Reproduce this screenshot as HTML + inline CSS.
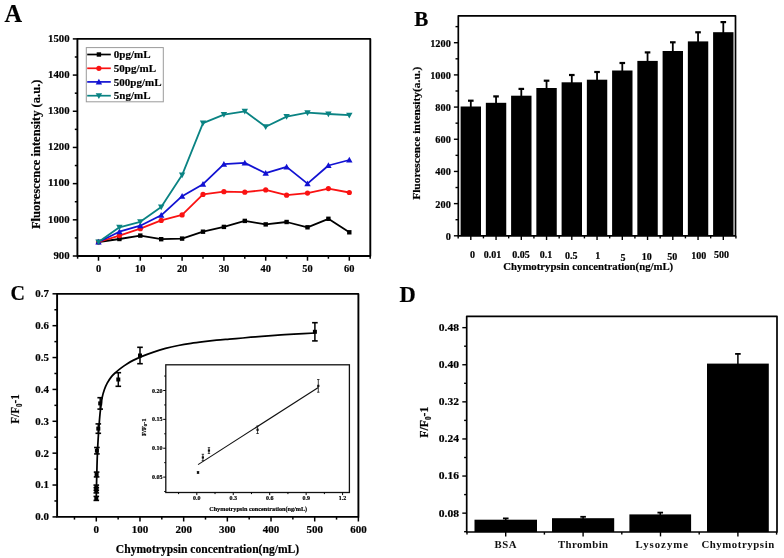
<!DOCTYPE html>
<html><head><meta charset="utf-8"><style>
html,body{margin:0;padding:0;background:#fff;}
svg{display:block;filter:blur(0.35px);}
text{font-family:"Liberation Serif",serif;font-weight:bold;fill:#000;stroke:#000;stroke-width:0.18px;stroke-linejoin:round;}
text.lt{stroke:none;fill:#111;}
</style></head><body>
<svg width="784" height="558" viewBox="0 0 784 558">
<rect width="784" height="558" fill="#fff"/>
<text x="4.50" y="21.90" font-size="24.4" text-anchor="start" >A</text>
<rect x="77.4" y="38.9" width="292.9" height="217.1" fill="none" stroke="#000" stroke-width="1.9" stroke-linejoin="round"/>
<line x1="72.80" y1="256.00" x2="77.40" y2="256.00" stroke="#000" stroke-width="1.5"/>
<text x="69.60" y="258.80" font-size="10.6" text-anchor="end" textLength="16.200000000000003" lengthAdjust="spacingAndGlyphs" >900</text>
<line x1="74.80" y1="237.91" x2="77.40" y2="237.91" stroke="#000" stroke-width="1.5"/>
<line x1="72.80" y1="219.82" x2="77.40" y2="219.82" stroke="#000" stroke-width="1.5"/>
<text x="69.60" y="222.62" font-size="10.6" text-anchor="end" textLength="21.6" lengthAdjust="spacingAndGlyphs" >1000</text>
<line x1="74.80" y1="201.72" x2="77.40" y2="201.72" stroke="#000" stroke-width="1.5"/>
<line x1="72.80" y1="183.63" x2="77.40" y2="183.63" stroke="#000" stroke-width="1.5"/>
<text x="69.60" y="186.43" font-size="10.6" text-anchor="end" textLength="21.6" lengthAdjust="spacingAndGlyphs" >1100</text>
<line x1="74.80" y1="165.54" x2="77.40" y2="165.54" stroke="#000" stroke-width="1.5"/>
<line x1="72.80" y1="147.45" x2="77.40" y2="147.45" stroke="#000" stroke-width="1.5"/>
<text x="69.60" y="150.25" font-size="10.6" text-anchor="end" textLength="21.6" lengthAdjust="spacingAndGlyphs" >1200</text>
<line x1="74.80" y1="129.36" x2="77.40" y2="129.36" stroke="#000" stroke-width="1.5"/>
<line x1="72.80" y1="111.27" x2="77.40" y2="111.27" stroke="#000" stroke-width="1.5"/>
<text x="69.60" y="114.07" font-size="10.6" text-anchor="end" textLength="21.6" lengthAdjust="spacingAndGlyphs" >1300</text>
<line x1="74.80" y1="93.18" x2="77.40" y2="93.18" stroke="#000" stroke-width="1.5"/>
<line x1="72.80" y1="75.08" x2="77.40" y2="75.08" stroke="#000" stroke-width="1.5"/>
<text x="69.60" y="77.88" font-size="10.6" text-anchor="end" textLength="21.6" lengthAdjust="spacingAndGlyphs" >1400</text>
<line x1="74.80" y1="56.99" x2="77.40" y2="56.99" stroke="#000" stroke-width="1.5"/>
<line x1="72.80" y1="38.90" x2="77.40" y2="38.90" stroke="#000" stroke-width="1.5"/>
<text x="69.60" y="41.70" font-size="10.6" text-anchor="end" textLength="21.6" lengthAdjust="spacingAndGlyphs" >1500</text>
<line x1="77.60" y1="256.00" x2="77.60" y2="258.70" stroke="#000" stroke-width="1.5"/>
<line x1="98.50" y1="256.00" x2="98.50" y2="260.70" stroke="#000" stroke-width="1.5"/>
<text x="98.50" y="272.20" font-size="10.4" text-anchor="middle" >0</text>
<line x1="119.40" y1="256.00" x2="119.40" y2="258.70" stroke="#000" stroke-width="1.5"/>
<line x1="140.30" y1="256.00" x2="140.30" y2="260.70" stroke="#000" stroke-width="1.5"/>
<text x="140.30" y="272.20" font-size="10.4" text-anchor="middle" >10</text>
<line x1="161.20" y1="256.00" x2="161.20" y2="258.70" stroke="#000" stroke-width="1.5"/>
<line x1="182.10" y1="256.00" x2="182.10" y2="260.70" stroke="#000" stroke-width="1.5"/>
<text x="182.10" y="272.20" font-size="10.4" text-anchor="middle" >20</text>
<line x1="203.00" y1="256.00" x2="203.00" y2="258.70" stroke="#000" stroke-width="1.5"/>
<line x1="223.90" y1="256.00" x2="223.90" y2="260.70" stroke="#000" stroke-width="1.5"/>
<text x="223.90" y="272.20" font-size="10.4" text-anchor="middle" >30</text>
<line x1="244.80" y1="256.00" x2="244.80" y2="258.70" stroke="#000" stroke-width="1.5"/>
<line x1="265.70" y1="256.00" x2="265.70" y2="260.70" stroke="#000" stroke-width="1.5"/>
<text x="265.70" y="272.20" font-size="10.4" text-anchor="middle" >40</text>
<line x1="286.60" y1="256.00" x2="286.60" y2="258.70" stroke="#000" stroke-width="1.5"/>
<line x1="307.50" y1="256.00" x2="307.50" y2="260.70" stroke="#000" stroke-width="1.5"/>
<text x="307.50" y="272.20" font-size="10.4" text-anchor="middle" >50</text>
<line x1="328.40" y1="256.00" x2="328.40" y2="258.70" stroke="#000" stroke-width="1.5"/>
<line x1="349.30" y1="256.00" x2="349.30" y2="260.70" stroke="#000" stroke-width="1.5"/>
<text x="349.30" y="272.20" font-size="10.4" text-anchor="middle" >60</text>
<line x1="370.20" y1="256.00" x2="370.20" y2="258.70" stroke="#000" stroke-width="1.5"/>
<text x="39.60" y="154.30" font-size="12" text-anchor="middle" textLength="149.5" lengthAdjust="spacingAndGlyphs" transform="rotate(-90 39.60 154.30)" >Fluorescence intensity (a.u.)</text>
<polyline points="98.50,242.00 119.40,239.00 140.30,235.60 161.20,239.20 182.10,238.60 203.00,231.70 223.90,226.90 244.80,220.90 265.70,224.40 286.60,222.00 307.50,227.30 328.40,218.80 349.30,232.30" fill="none" stroke="#000000" stroke-width="1.8" stroke-linejoin="round"/>
<polyline points="98.50,242.00 119.40,235.60 140.30,228.70 161.20,220.40 182.10,214.90 203.00,194.40 223.90,191.70 244.80,192.20 265.70,189.90 286.60,195.20 307.50,193.10 328.40,188.60 349.30,192.50" fill="none" stroke="#fa1212" stroke-width="1.8" stroke-linejoin="round"/>
<polyline points="98.50,242.00 119.40,231.70 140.30,225.70 161.20,215.30 182.10,196.20 203.00,184.20 223.90,164.10 244.80,162.90 265.70,173.20 286.60,166.90 307.50,183.60 328.40,165.50 349.30,160.00" fill="none" stroke="#1212d2" stroke-width="1.8" stroke-linejoin="round"/>
<polyline points="98.50,242.00 119.40,227.30 140.30,221.80 161.20,207.00 182.10,175.10 203.00,123.10 223.90,114.60 244.80,111.30 265.70,126.70 286.60,116.60 307.50,112.70 328.40,114.00 349.30,115.20" fill="none" stroke="#0a8383" stroke-width="1.8" stroke-linejoin="round"/>
<rect x="96.30" y="239.80" width="4.40" height="4.40" fill="#000000"/>
<rect x="117.20" y="236.80" width="4.40" height="4.40" fill="#000000"/>
<rect x="138.10" y="233.40" width="4.40" height="4.40" fill="#000000"/>
<rect x="159.00" y="237.00" width="4.40" height="4.40" fill="#000000"/>
<rect x="179.90" y="236.40" width="4.40" height="4.40" fill="#000000"/>
<rect x="200.80" y="229.50" width="4.40" height="4.40" fill="#000000"/>
<rect x="221.70" y="224.70" width="4.40" height="4.40" fill="#000000"/>
<rect x="242.60" y="218.70" width="4.40" height="4.40" fill="#000000"/>
<rect x="263.50" y="222.20" width="4.40" height="4.40" fill="#000000"/>
<rect x="284.40" y="219.80" width="4.40" height="4.40" fill="#000000"/>
<rect x="305.30" y="225.10" width="4.40" height="4.40" fill="#000000"/>
<rect x="326.20" y="216.60" width="4.40" height="4.40" fill="#000000"/>
<rect x="347.10" y="230.10" width="4.40" height="4.40" fill="#000000"/>
<circle cx="98.50" cy="242.00" r="2.6" fill="#fa1212"/>
<circle cx="119.40" cy="235.60" r="2.6" fill="#fa1212"/>
<circle cx="140.30" cy="228.70" r="2.6" fill="#fa1212"/>
<circle cx="161.20" cy="220.40" r="2.6" fill="#fa1212"/>
<circle cx="182.10" cy="214.90" r="2.6" fill="#fa1212"/>
<circle cx="203.00" cy="194.40" r="2.6" fill="#fa1212"/>
<circle cx="223.90" cy="191.70" r="2.6" fill="#fa1212"/>
<circle cx="244.80" cy="192.20" r="2.6" fill="#fa1212"/>
<circle cx="265.70" cy="189.90" r="2.6" fill="#fa1212"/>
<circle cx="286.60" cy="195.20" r="2.6" fill="#fa1212"/>
<circle cx="307.50" cy="193.10" r="2.6" fill="#fa1212"/>
<circle cx="328.40" cy="188.60" r="2.6" fill="#fa1212"/>
<circle cx="349.30" cy="192.50" r="2.6" fill="#fa1212"/>
<polygon points="98.50,238.80 101.70,244.56 95.30,244.56" fill="#1212d2"/>
<polygon points="119.40,228.50 122.60,234.26 116.20,234.26" fill="#1212d2"/>
<polygon points="140.30,222.50 143.50,228.26 137.10,228.26" fill="#1212d2"/>
<polygon points="161.20,212.10 164.40,217.86 158.00,217.86" fill="#1212d2"/>
<polygon points="182.10,193.00 185.30,198.76 178.90,198.76" fill="#1212d2"/>
<polygon points="203.00,181.00 206.20,186.76 199.80,186.76" fill="#1212d2"/>
<polygon points="223.90,160.90 227.10,166.66 220.70,166.66" fill="#1212d2"/>
<polygon points="244.80,159.70 248.00,165.46 241.60,165.46" fill="#1212d2"/>
<polygon points="265.70,170.00 268.90,175.76 262.50,175.76" fill="#1212d2"/>
<polygon points="286.60,163.70 289.80,169.46 283.40,169.46" fill="#1212d2"/>
<polygon points="307.50,180.40 310.70,186.16 304.30,186.16" fill="#1212d2"/>
<polygon points="328.40,162.30 331.60,168.06 325.20,168.06" fill="#1212d2"/>
<polygon points="349.30,156.80 352.50,162.56 346.10,162.56" fill="#1212d2"/>
<polygon points="98.50,245.20 101.70,239.44 95.30,239.44" fill="#0a8383"/>
<polygon points="119.40,230.50 122.60,224.74 116.20,224.74" fill="#0a8383"/>
<polygon points="140.30,225.00 143.50,219.24 137.10,219.24" fill="#0a8383"/>
<polygon points="161.20,210.20 164.40,204.44 158.00,204.44" fill="#0a8383"/>
<polygon points="182.10,178.30 185.30,172.54 178.90,172.54" fill="#0a8383"/>
<polygon points="203.00,126.30 206.20,120.54 199.80,120.54" fill="#0a8383"/>
<polygon points="223.90,117.80 227.10,112.04 220.70,112.04" fill="#0a8383"/>
<polygon points="244.80,114.50 248.00,108.74 241.60,108.74" fill="#0a8383"/>
<polygon points="265.70,129.90 268.90,124.14 262.50,124.14" fill="#0a8383"/>
<polygon points="286.60,119.80 289.80,114.04 283.40,114.04" fill="#0a8383"/>
<polygon points="307.50,115.90 310.70,110.14 304.30,110.14" fill="#0a8383"/>
<polygon points="328.40,117.20 331.60,111.44 325.20,111.44" fill="#0a8383"/>
<polygon points="349.30,118.40 352.50,112.64 346.10,112.64" fill="#0a8383"/>
<rect x="86.3" y="47.6" width="77" height="54.2" fill="#fff" stroke="#9a9a9a" stroke-width="1"/>
<line x1="87.20" y1="54.50" x2="110.80" y2="54.50" stroke="#000000" stroke-width="1.7"/>
<rect x="96.70" y="52.30" width="4.40" height="4.40" fill="#000000"/>
<text x="113.80" y="58.20" font-size="11" text-anchor="start" >0pg/mL</text>
<line x1="87.20" y1="68.30" x2="110.80" y2="68.30" stroke="#fa1212" stroke-width="1.7"/>
<circle cx="98.90" cy="68.30" r="2.6" fill="#fa1212"/>
<text x="113.80" y="72.00" font-size="11" text-anchor="start" >50pg/mL</text>
<line x1="87.20" y1="81.90" x2="110.80" y2="81.90" stroke="#1212d2" stroke-width="1.7"/>
<polygon points="98.90,78.70 102.10,84.46 95.70,84.46" fill="#1212d2"/>
<text x="113.80" y="85.60" font-size="11" text-anchor="start" >500pg/mL</text>
<line x1="87.20" y1="95.70" x2="110.80" y2="95.70" stroke="#0a8383" stroke-width="1.7"/>
<polygon points="98.90,98.90 102.10,93.14 95.70,93.14" fill="#0a8383"/>
<text x="113.80" y="99.40" font-size="11" text-anchor="start" >5ng/mL</text>
<text x="414.30" y="26.10" font-size="21" text-anchor="start" >B</text>
<rect x="458.3" y="15.8" width="277.2" height="220.0" fill="none" stroke="#000" stroke-width="1.7" stroke-linejoin="round"/>
<line x1="453.90" y1="235.80" x2="458.30" y2="235.80" stroke="#000" stroke-width="1.4"/>
<text x="450.80" y="239.80" font-size="10" text-anchor="end" textLength="5.15" lengthAdjust="spacingAndGlyphs" >0</text>
<line x1="455.50" y1="219.71" x2="458.30" y2="219.71" stroke="#000" stroke-width="1.4"/>
<line x1="453.90" y1="203.62" x2="458.30" y2="203.62" stroke="#000" stroke-width="1.4"/>
<text x="450.80" y="207.62" font-size="10" text-anchor="end" textLength="15.450000000000001" lengthAdjust="spacingAndGlyphs" >200</text>
<line x1="455.50" y1="187.53" x2="458.30" y2="187.53" stroke="#000" stroke-width="1.4"/>
<line x1="453.90" y1="171.44" x2="458.30" y2="171.44" stroke="#000" stroke-width="1.4"/>
<text x="450.80" y="175.44" font-size="10" text-anchor="end" textLength="15.450000000000001" lengthAdjust="spacingAndGlyphs" >400</text>
<line x1="455.50" y1="155.35" x2="458.30" y2="155.35" stroke="#000" stroke-width="1.4"/>
<line x1="453.90" y1="139.26" x2="458.30" y2="139.26" stroke="#000" stroke-width="1.4"/>
<text x="450.80" y="143.26" font-size="10" text-anchor="end" textLength="15.450000000000001" lengthAdjust="spacingAndGlyphs" >600</text>
<line x1="455.50" y1="123.17" x2="458.30" y2="123.17" stroke="#000" stroke-width="1.4"/>
<line x1="453.90" y1="107.08" x2="458.30" y2="107.08" stroke="#000" stroke-width="1.4"/>
<text x="450.80" y="111.08" font-size="10" text-anchor="end" textLength="15.450000000000001" lengthAdjust="spacingAndGlyphs" >800</text>
<line x1="455.50" y1="90.99" x2="458.30" y2="90.99" stroke="#000" stroke-width="1.4"/>
<line x1="453.90" y1="74.90" x2="458.30" y2="74.90" stroke="#000" stroke-width="1.4"/>
<text x="450.80" y="78.90" font-size="10" text-anchor="end" textLength="20.6" lengthAdjust="spacingAndGlyphs" >1000</text>
<line x1="455.50" y1="58.81" x2="458.30" y2="58.81" stroke="#000" stroke-width="1.4"/>
<line x1="453.90" y1="42.72" x2="458.30" y2="42.72" stroke="#000" stroke-width="1.4"/>
<text x="450.80" y="46.72" font-size="10" text-anchor="end" textLength="20.6" lengthAdjust="spacingAndGlyphs" >1200</text>
<line x1="455.50" y1="26.63" x2="458.30" y2="26.63" stroke="#000" stroke-width="1.4"/>
<rect x="460.60" y="106.50" width="20.40" height="129.30" fill="#000"/>
<line x1="470.80" y1="100.40" x2="470.80" y2="107.50" stroke="#000" stroke-width="1.8"/>
<line x1="468.00" y1="100.70" x2="473.60" y2="100.70" stroke="#000" stroke-width="2.2"/>
<rect x="485.85" y="102.80" width="20.40" height="133.00" fill="#000"/>
<line x1="496.05" y1="96.10" x2="496.05" y2="103.80" stroke="#000" stroke-width="1.8"/>
<line x1="493.25" y1="96.40" x2="498.85" y2="96.40" stroke="#000" stroke-width="2.2"/>
<rect x="511.10" y="95.70" width="20.40" height="140.10" fill="#000"/>
<line x1="521.30" y1="88.60" x2="521.30" y2="96.70" stroke="#000" stroke-width="1.8"/>
<line x1="518.50" y1="88.90" x2="524.10" y2="88.90" stroke="#000" stroke-width="2.2"/>
<rect x="536.35" y="88.00" width="20.40" height="147.80" fill="#000"/>
<line x1="546.55" y1="80.40" x2="546.55" y2="89.00" stroke="#000" stroke-width="1.8"/>
<line x1="543.75" y1="80.70" x2="549.35" y2="80.70" stroke="#000" stroke-width="2.2"/>
<rect x="561.60" y="82.30" width="20.40" height="153.50" fill="#000"/>
<line x1="571.80" y1="74.70" x2="571.80" y2="83.30" stroke="#000" stroke-width="1.8"/>
<line x1="569.00" y1="75.00" x2="574.60" y2="75.00" stroke="#000" stroke-width="2.2"/>
<rect x="586.85" y="79.70" width="20.40" height="156.10" fill="#000"/>
<line x1="597.05" y1="71.70" x2="597.05" y2="80.70" stroke="#000" stroke-width="1.8"/>
<line x1="594.25" y1="72.00" x2="599.85" y2="72.00" stroke="#000" stroke-width="2.2"/>
<rect x="612.10" y="70.50" width="20.40" height="165.30" fill="#000"/>
<line x1="622.30" y1="62.70" x2="622.30" y2="71.50" stroke="#000" stroke-width="1.8"/>
<line x1="619.50" y1="63.00" x2="625.10" y2="63.00" stroke="#000" stroke-width="2.2"/>
<rect x="637.35" y="60.90" width="20.40" height="174.90" fill="#000"/>
<line x1="647.55" y1="52.10" x2="647.55" y2="61.90" stroke="#000" stroke-width="1.8"/>
<line x1="644.75" y1="52.40" x2="650.35" y2="52.40" stroke="#000" stroke-width="2.2"/>
<rect x="662.60" y="51.00" width="20.40" height="184.80" fill="#000"/>
<line x1="672.80" y1="42.00" x2="672.80" y2="52.00" stroke="#000" stroke-width="1.8"/>
<line x1="670.00" y1="42.30" x2="675.60" y2="42.30" stroke="#000" stroke-width="2.2"/>
<rect x="687.85" y="41.40" width="20.40" height="194.40" fill="#000"/>
<line x1="698.05" y1="32.00" x2="698.05" y2="42.40" stroke="#000" stroke-width="1.8"/>
<line x1="695.25" y1="32.30" x2="700.85" y2="32.30" stroke="#000" stroke-width="2.2"/>
<rect x="713.10" y="32.20" width="20.40" height="203.60" fill="#000"/>
<line x1="723.30" y1="21.80" x2="723.30" y2="33.20" stroke="#000" stroke-width="1.8"/>
<line x1="720.50" y1="22.10" x2="726.10" y2="22.10" stroke="#000" stroke-width="2.2"/>
<line x1="458.18" y1="235.80" x2="458.18" y2="238.40" stroke="#000" stroke-width="1.4"/>
<line x1="470.80" y1="235.80" x2="470.80" y2="240.00" stroke="#000" stroke-width="1.4"/>
<line x1="483.43" y1="235.80" x2="483.43" y2="238.40" stroke="#000" stroke-width="1.4"/>
<line x1="496.05" y1="235.80" x2="496.05" y2="240.00" stroke="#000" stroke-width="1.4"/>
<line x1="508.68" y1="235.80" x2="508.68" y2="238.40" stroke="#000" stroke-width="1.4"/>
<line x1="521.30" y1="235.80" x2="521.30" y2="240.00" stroke="#000" stroke-width="1.4"/>
<line x1="533.92" y1="235.80" x2="533.92" y2="238.40" stroke="#000" stroke-width="1.4"/>
<line x1="546.55" y1="235.80" x2="546.55" y2="240.00" stroke="#000" stroke-width="1.4"/>
<line x1="559.17" y1="235.80" x2="559.17" y2="238.40" stroke="#000" stroke-width="1.4"/>
<line x1="571.80" y1="235.80" x2="571.80" y2="240.00" stroke="#000" stroke-width="1.4"/>
<line x1="584.42" y1="235.80" x2="584.42" y2="238.40" stroke="#000" stroke-width="1.4"/>
<line x1="597.05" y1="235.80" x2="597.05" y2="240.00" stroke="#000" stroke-width="1.4"/>
<line x1="609.67" y1="235.80" x2="609.67" y2="238.40" stroke="#000" stroke-width="1.4"/>
<line x1="622.30" y1="235.80" x2="622.30" y2="240.00" stroke="#000" stroke-width="1.4"/>
<line x1="634.92" y1="235.80" x2="634.92" y2="238.40" stroke="#000" stroke-width="1.4"/>
<line x1="647.55" y1="235.80" x2="647.55" y2="240.00" stroke="#000" stroke-width="1.4"/>
<line x1="660.17" y1="235.80" x2="660.17" y2="238.40" stroke="#000" stroke-width="1.4"/>
<line x1="672.80" y1="235.80" x2="672.80" y2="240.00" stroke="#000" stroke-width="1.4"/>
<line x1="685.42" y1="235.80" x2="685.42" y2="238.40" stroke="#000" stroke-width="1.4"/>
<line x1="698.05" y1="235.80" x2="698.05" y2="240.00" stroke="#000" stroke-width="1.4"/>
<line x1="710.67" y1="235.80" x2="710.67" y2="238.40" stroke="#000" stroke-width="1.4"/>
<line x1="723.30" y1="235.80" x2="723.30" y2="240.00" stroke="#000" stroke-width="1.4"/>
<line x1="735.92" y1="235.80" x2="735.92" y2="238.40" stroke="#000" stroke-width="1.4"/>
<text x="472.60" y="258.20" font-size="10" text-anchor="middle" >0</text>
<text x="492.50" y="258.20" font-size="10" text-anchor="middle" >0.01</text>
<text x="521.00" y="258.20" font-size="10" text-anchor="middle" >0.05</text>
<text x="545.90" y="258.20" font-size="10" text-anchor="middle" >0.1</text>
<text x="571.20" y="259.00" font-size="10" text-anchor="middle" >0.5</text>
<text x="597.70" y="259.10" font-size="10" text-anchor="middle" >1</text>
<text x="622.90" y="261.40" font-size="10" text-anchor="middle" >5</text>
<text x="646.80" y="260.10" font-size="10" text-anchor="middle" >10</text>
<text x="672.20" y="260.10" font-size="10" text-anchor="middle" >50</text>
<text x="698.70" y="259.10" font-size="10" text-anchor="middle" >100</text>
<text x="721.40" y="258.20" font-size="10" text-anchor="middle" >500</text>
<text x="503.30" y="269.70" font-size="10.7" text-anchor="start" textLength="169.9" lengthAdjust="spacingAndGlyphs" >Chymotrypsin concentration(ng/mL)</text>
<text x="420.20" y="133.20" font-size="10.2" text-anchor="middle" textLength="133.2" lengthAdjust="spacingAndGlyphs" transform="rotate(-90 420.20 133.20)" >Fluorescence intensity(a.u.)</text>
<text x="10.60" y="299.80" font-size="20" text-anchor="start" >C</text>
<rect x="57.1" y="293.9" width="301.29999999999995" height="223.0" fill="none" stroke="#000" stroke-width="1.9" stroke-linejoin="round"/>
<line x1="52.50" y1="516.90" x2="57.10" y2="516.90" stroke="#000" stroke-width="1.5"/>
<text x="48.90" y="520.30" font-size="10" text-anchor="end" textLength="13.6" lengthAdjust="spacingAndGlyphs" >0.0</text>
<line x1="54.40" y1="500.96" x2="57.10" y2="500.96" stroke="#000" stroke-width="1.5"/>
<line x1="52.50" y1="485.03" x2="57.10" y2="485.03" stroke="#000" stroke-width="1.5"/>
<text x="48.90" y="488.43" font-size="10" text-anchor="end" textLength="13.6" lengthAdjust="spacingAndGlyphs" >0.1</text>
<line x1="54.40" y1="469.09" x2="57.10" y2="469.09" stroke="#000" stroke-width="1.5"/>
<line x1="52.50" y1="453.16" x2="57.10" y2="453.16" stroke="#000" stroke-width="1.5"/>
<text x="48.90" y="456.56" font-size="10" text-anchor="end" textLength="13.6" lengthAdjust="spacingAndGlyphs" >0.2</text>
<line x1="54.40" y1="437.22" x2="57.10" y2="437.22" stroke="#000" stroke-width="1.5"/>
<line x1="52.50" y1="421.29" x2="57.10" y2="421.29" stroke="#000" stroke-width="1.5"/>
<text x="48.90" y="424.69" font-size="10" text-anchor="end" textLength="13.6" lengthAdjust="spacingAndGlyphs" >0.3</text>
<line x1="54.40" y1="405.35" x2="57.10" y2="405.35" stroke="#000" stroke-width="1.5"/>
<line x1="52.50" y1="389.42" x2="57.10" y2="389.42" stroke="#000" stroke-width="1.5"/>
<text x="48.90" y="392.82" font-size="10" text-anchor="end" textLength="13.6" lengthAdjust="spacingAndGlyphs" >0.4</text>
<line x1="54.40" y1="373.49" x2="57.10" y2="373.49" stroke="#000" stroke-width="1.5"/>
<line x1="52.50" y1="357.55" x2="57.10" y2="357.55" stroke="#000" stroke-width="1.5"/>
<text x="48.90" y="360.95" font-size="10" text-anchor="end" textLength="13.6" lengthAdjust="spacingAndGlyphs" >0.5</text>
<line x1="54.40" y1="341.62" x2="57.10" y2="341.62" stroke="#000" stroke-width="1.5"/>
<line x1="52.50" y1="325.68" x2="57.10" y2="325.68" stroke="#000" stroke-width="1.5"/>
<text x="48.90" y="329.08" font-size="10" text-anchor="end" textLength="13.6" lengthAdjust="spacingAndGlyphs" >0.6</text>
<line x1="54.40" y1="309.75" x2="57.10" y2="309.75" stroke="#000" stroke-width="1.5"/>
<line x1="52.50" y1="293.81" x2="57.10" y2="293.81" stroke="#000" stroke-width="1.5"/>
<text x="48.90" y="297.21" font-size="10" text-anchor="end" textLength="13.6" lengthAdjust="spacingAndGlyphs" >0.7</text>
<line x1="74.46" y1="516.90" x2="74.46" y2="519.60" stroke="#000" stroke-width="1.5"/>
<line x1="96.30" y1="516.90" x2="96.30" y2="521.50" stroke="#000" stroke-width="1.5"/>
<text x="96.30" y="532.90" font-size="11" text-anchor="middle" >0</text>
<line x1="118.14" y1="516.90" x2="118.14" y2="519.60" stroke="#000" stroke-width="1.5"/>
<line x1="139.98" y1="516.90" x2="139.98" y2="521.50" stroke="#000" stroke-width="1.5"/>
<text x="139.98" y="532.90" font-size="11" text-anchor="middle" >100</text>
<line x1="161.82" y1="516.90" x2="161.82" y2="519.60" stroke="#000" stroke-width="1.5"/>
<line x1="183.66" y1="516.90" x2="183.66" y2="521.50" stroke="#000" stroke-width="1.5"/>
<text x="183.66" y="532.90" font-size="11" text-anchor="middle" >200</text>
<line x1="205.50" y1="516.90" x2="205.50" y2="519.60" stroke="#000" stroke-width="1.5"/>
<line x1="227.34" y1="516.90" x2="227.34" y2="521.50" stroke="#000" stroke-width="1.5"/>
<text x="227.34" y="532.90" font-size="11" text-anchor="middle" >300</text>
<line x1="249.18" y1="516.90" x2="249.18" y2="519.60" stroke="#000" stroke-width="1.5"/>
<line x1="271.02" y1="516.90" x2="271.02" y2="521.50" stroke="#000" stroke-width="1.5"/>
<text x="271.02" y="532.90" font-size="11" text-anchor="middle" >400</text>
<line x1="292.86" y1="516.90" x2="292.86" y2="519.60" stroke="#000" stroke-width="1.5"/>
<line x1="314.70" y1="516.90" x2="314.70" y2="521.50" stroke="#000" stroke-width="1.5"/>
<text x="314.70" y="532.90" font-size="11" text-anchor="middle" >500</text>
<line x1="336.54" y1="516.90" x2="336.54" y2="519.60" stroke="#000" stroke-width="1.5"/>
<line x1="358.38" y1="516.90" x2="358.38" y2="521.50" stroke="#000" stroke-width="1.5"/>
<text x="358.38" y="532.90" font-size="11" text-anchor="middle" >600</text>
<text x="115.80" y="552.80" font-size="11.8" text-anchor="start" textLength="183.4" lengthAdjust="spacingAndGlyphs" >Chymotrypsin concentration(ng/mL)</text>
<text x="18.8" y="423.8" font-size="12" textLength="29.6" lengthAdjust="spacingAndGlyphs" transform="rotate(-90 18.8 423.8)">F/F<tspan font-size="7.5" dy="3">0</tspan><tspan dy="-3">-1</tspan></text>
<rect x="165.8" y="364.8" width="183.59999999999997" height="127.69999999999999" fill="#fff" stroke="#111" stroke-width="1.3"/>
<line x1="164.20" y1="491.54" x2="165.80" y2="491.54" stroke="#000" stroke-width="1.0"/>
<line x1="163.20" y1="477.10" x2="165.80" y2="477.10" stroke="#000" stroke-width="1.0"/>
<text x="162.60" y="479.20" font-size="6" text-anchor="end" textLength="10.6" lengthAdjust="spacingAndGlyphs" >0.05</text>
<line x1="164.20" y1="462.67" x2="165.80" y2="462.67" stroke="#000" stroke-width="1.0"/>
<line x1="163.20" y1="448.23" x2="165.80" y2="448.23" stroke="#000" stroke-width="1.0"/>
<text x="162.60" y="450.33" font-size="6" text-anchor="end" textLength="10.6" lengthAdjust="spacingAndGlyphs" >0.10</text>
<line x1="164.20" y1="433.80" x2="165.80" y2="433.80" stroke="#000" stroke-width="1.0"/>
<line x1="163.20" y1="419.36" x2="165.80" y2="419.36" stroke="#000" stroke-width="1.0"/>
<text x="162.60" y="421.46" font-size="6" text-anchor="end" textLength="10.6" lengthAdjust="spacingAndGlyphs" >0.15</text>
<line x1="164.20" y1="404.93" x2="165.80" y2="404.93" stroke="#000" stroke-width="1.0"/>
<line x1="163.20" y1="390.49" x2="165.80" y2="390.49" stroke="#000" stroke-width="1.0"/>
<text x="162.60" y="392.59" font-size="6" text-anchor="end" textLength="10.6" lengthAdjust="spacingAndGlyphs" >0.20</text>
<line x1="164.20" y1="376.06" x2="165.80" y2="376.06" stroke="#000" stroke-width="1.0"/>
<line x1="178.58" y1="492.50" x2="178.58" y2="494.10" stroke="#000" stroke-width="1.0"/>
<line x1="196.80" y1="492.50" x2="196.80" y2="495.10" stroke="#000" stroke-width="1.0"/>
<text x="196.80" y="500.00" font-size="6" text-anchor="middle" >0.0</text>
<line x1="215.03" y1="492.50" x2="215.03" y2="494.10" stroke="#000" stroke-width="1.0"/>
<line x1="233.25" y1="492.50" x2="233.25" y2="495.10" stroke="#000" stroke-width="1.0"/>
<text x="233.25" y="500.00" font-size="6" text-anchor="middle" >0.3</text>
<line x1="251.48" y1="492.50" x2="251.48" y2="494.10" stroke="#000" stroke-width="1.0"/>
<line x1="269.70" y1="492.50" x2="269.70" y2="495.10" stroke="#000" stroke-width="1.0"/>
<text x="269.70" y="500.00" font-size="6" text-anchor="middle" >0.6</text>
<line x1="287.93" y1="492.50" x2="287.93" y2="494.10" stroke="#000" stroke-width="1.0"/>
<line x1="306.15" y1="492.50" x2="306.15" y2="495.10" stroke="#000" stroke-width="1.0"/>
<text x="306.15" y="500.00" font-size="6" text-anchor="middle" >0.9</text>
<line x1="324.38" y1="492.50" x2="324.38" y2="494.10" stroke="#000" stroke-width="1.0"/>
<line x1="342.60" y1="492.50" x2="342.60" y2="495.10" stroke="#000" stroke-width="1.0"/>
<text x="342.60" y="500.00" font-size="6" text-anchor="middle" >1.2</text>
<text x="258.20" y="510.80" font-size="6.2" text-anchor="middle" textLength="98" lengthAdjust="spacingAndGlyphs" >Chymotrypsin concentration(ng/mL)</text>
<text x="145.6" y="436" font-size="6.5" transform="rotate(-90 145.6 436)">F/F<tspan font-size="4.5" dy="1.5">0</tspan><tspan dy="-1.5">-1</tspan></text>
<line x1="198.02" y1="464.63" x2="318.30" y2="387.43" stroke="#111" stroke-width="1.1"/>
<line x1="198.02" y1="471.61" x2="198.02" y2="473.35" stroke="#111" stroke-width="0.8"/>
<line x1="196.82" y1="471.61" x2="199.22" y2="471.61" stroke="#111" stroke-width="0.8"/>
<line x1="196.82" y1="473.35" x2="199.22" y2="473.35" stroke="#111" stroke-width="0.8"/>
<rect x="196.92" y="471.38" width="2.20" height="2.20" fill="#111"/>
<line x1="202.88" y1="454.29" x2="202.88" y2="460.64" stroke="#111" stroke-width="0.8"/>
<line x1="201.68" y1="454.29" x2="204.07" y2="454.29" stroke="#111" stroke-width="0.8"/>
<line x1="201.68" y1="460.64" x2="204.07" y2="460.64" stroke="#111" stroke-width="0.8"/>
<rect x="201.78" y="456.37" width="2.20" height="2.20" fill="#111"/>
<line x1="208.95" y1="447.65" x2="208.95" y2="453.43" stroke="#111" stroke-width="0.8"/>
<line x1="207.75" y1="447.65" x2="210.15" y2="447.65" stroke="#111" stroke-width="0.8"/>
<line x1="207.75" y1="453.43" x2="210.15" y2="453.43" stroke="#111" stroke-width="0.8"/>
<rect x="207.85" y="449.44" width="2.20" height="2.20" fill="#111"/>
<line x1="257.55" y1="426.00" x2="257.55" y2="433.51" stroke="#111" stroke-width="0.8"/>
<line x1="256.35" y1="426.00" x2="258.75" y2="426.00" stroke="#111" stroke-width="0.8"/>
<line x1="256.35" y1="433.51" x2="258.75" y2="433.51" stroke="#111" stroke-width="0.8"/>
<rect x="256.45" y="428.65" width="2.20" height="2.20" fill="#111"/>
<line x1="318.30" y1="379.52" x2="318.30" y2="392.22" stroke="#111" stroke-width="0.8"/>
<line x1="317.10" y1="379.52" x2="319.50" y2="379.52" stroke="#111" stroke-width="0.8"/>
<line x1="317.10" y1="392.22" x2="319.50" y2="392.22" stroke="#111" stroke-width="0.8"/>
<rect x="317.20" y="384.77" width="2.20" height="2.20" fill="#111"/>
<path d="M96.30,498.00 C96.33,496.00 96.42,490.00 96.50,486.00 C96.58,482.00 96.68,478.50 96.80,474.00 C96.92,469.50 97.03,463.83 97.20,459.00 C97.37,454.17 97.57,449.50 97.80,445.00 C98.03,440.50 98.33,436.00 98.60,432.00 C98.87,428.00 99.15,424.17 99.40,421.00 C99.65,417.83 99.85,415.42 100.10,413.00 C100.35,410.58 100.55,409.10 100.90,406.50 C101.25,403.90 101.62,400.23 102.20,397.40 C102.78,394.57 103.57,391.88 104.40,389.50 C105.23,387.12 106.02,385.25 107.20,383.10 C108.38,380.95 110.07,378.40 111.50,376.60 C112.93,374.80 114.12,373.80 115.80,372.30 C117.48,370.80 119.68,369.03 121.60,367.60 C123.52,366.17 125.38,364.90 127.30,363.70 C129.22,362.50 130.77,361.58 133.10,360.40 C135.43,359.22 138.02,357.95 141.30,356.60 C144.58,355.25 148.77,353.67 152.80,352.30 C156.83,350.93 161.25,349.53 165.50,348.40 C169.75,347.27 174.05,346.35 178.30,345.50 C182.55,344.65 186.75,343.95 191.00,343.30 C195.25,342.65 199.55,342.12 203.80,341.60 C208.05,341.08 212.25,340.62 216.50,340.20 C220.75,339.78 224.92,339.47 229.30,339.10 C233.68,338.73 238.43,338.38 242.80,338.00 C247.17,337.62 251.25,337.17 255.50,336.80 C259.75,336.43 264.05,336.12 268.30,335.80 C272.55,335.48 276.75,335.18 281.00,334.90 C285.25,334.62 288.13,334.42 293.80,334.10 C299.47,333.78 311.47,333.18 315.00,333.00" fill="none" stroke="#000" stroke-width="1.75"/>
<line x1="96.30" y1="496.40" x2="96.30" y2="500.40" stroke="#000" stroke-width="1.5"/>
<line x1="93.50" y1="496.40" x2="99.10" y2="496.40" stroke="#000" stroke-width="1.6"/>
<line x1="93.50" y1="500.40" x2="99.10" y2="500.40" stroke="#000" stroke-width="1.6"/>
<rect x="94.30" y="496.40" width="4.00" height="4.00" fill="#000"/>
<line x1="96.30" y1="487.70" x2="96.30" y2="492.90" stroke="#000" stroke-width="1.5"/>
<line x1="93.50" y1="487.70" x2="99.10" y2="487.70" stroke="#000" stroke-width="1.6"/>
<line x1="93.50" y1="492.90" x2="99.10" y2="492.90" stroke="#000" stroke-width="1.6"/>
<rect x="94.30" y="488.30" width="4.00" height="4.00" fill="#000"/>
<line x1="96.30" y1="485.10" x2="96.30" y2="490.30" stroke="#000" stroke-width="1.5"/>
<line x1="93.50" y1="485.10" x2="99.10" y2="485.10" stroke="#000" stroke-width="1.6"/>
<line x1="93.50" y1="490.30" x2="99.10" y2="490.30" stroke="#000" stroke-width="1.6"/>
<rect x="94.30" y="485.70" width="4.00" height="4.00" fill="#000"/>
<line x1="96.60" y1="472.10" x2="96.60" y2="476.90" stroke="#000" stroke-width="1.5"/>
<line x1="93.80" y1="472.10" x2="99.40" y2="472.10" stroke="#000" stroke-width="1.6"/>
<line x1="93.80" y1="476.90" x2="99.40" y2="476.90" stroke="#000" stroke-width="1.6"/>
<rect x="94.60" y="472.50" width="4.00" height="4.00" fill="#000"/>
<line x1="96.90" y1="447.50" x2="96.90" y2="453.90" stroke="#000" stroke-width="1.5"/>
<line x1="94.10" y1="447.50" x2="99.70" y2="447.50" stroke="#000" stroke-width="1.6"/>
<line x1="94.10" y1="453.90" x2="99.70" y2="453.90" stroke="#000" stroke-width="1.6"/>
<rect x="94.90" y="448.70" width="4.00" height="4.00" fill="#000"/>
<line x1="98.30" y1="423.90" x2="98.30" y2="433.30" stroke="#000" stroke-width="1.5"/>
<line x1="95.50" y1="423.90" x2="101.10" y2="423.90" stroke="#000" stroke-width="1.6"/>
<line x1="95.50" y1="433.30" x2="101.10" y2="433.30" stroke="#000" stroke-width="1.6"/>
<rect x="96.30" y="426.60" width="4.00" height="4.00" fill="#000"/>
<line x1="100.20" y1="397.70" x2="100.20" y2="409.10" stroke="#000" stroke-width="1.5"/>
<line x1="97.40" y1="397.70" x2="103.00" y2="397.70" stroke="#000" stroke-width="1.6"/>
<line x1="97.40" y1="409.10" x2="103.00" y2="409.10" stroke="#000" stroke-width="1.6"/>
<rect x="98.20" y="401.40" width="4.00" height="4.00" fill="#000"/>
<line x1="118.30" y1="372.70" x2="118.30" y2="386.30" stroke="#000" stroke-width="1.5"/>
<line x1="115.50" y1="372.70" x2="121.10" y2="372.70" stroke="#000" stroke-width="1.6"/>
<line x1="115.50" y1="386.30" x2="121.10" y2="386.30" stroke="#000" stroke-width="1.6"/>
<rect x="116.30" y="377.50" width="4.00" height="4.00" fill="#000"/>
<line x1="140.00" y1="347.30" x2="140.00" y2="363.70" stroke="#000" stroke-width="1.5"/>
<line x1="137.20" y1="347.30" x2="142.80" y2="347.30" stroke="#000" stroke-width="1.6"/>
<line x1="137.20" y1="363.70" x2="142.80" y2="363.70" stroke="#000" stroke-width="1.6"/>
<rect x="138.00" y="353.50" width="4.00" height="4.00" fill="#000"/>
<line x1="314.90" y1="322.70" x2="314.90" y2="340.90" stroke="#000" stroke-width="1.5"/>
<line x1="312.10" y1="322.70" x2="317.70" y2="322.70" stroke="#000" stroke-width="1.6"/>
<line x1="312.10" y1="340.90" x2="317.70" y2="340.90" stroke="#000" stroke-width="1.6"/>
<rect x="312.90" y="329.80" width="4.00" height="4.00" fill="#000"/>
<text x="399.50" y="301.60" font-size="22.5" text-anchor="start" >D</text>
<rect x="466.7" y="316.3" width="310.3" height="215.7" fill="none" stroke="#000" stroke-width="1.7" stroke-linejoin="round"/>
<line x1="464.10" y1="531.70" x2="466.70" y2="531.70" stroke="#000" stroke-width="1.4"/>
<line x1="462.30" y1="513.15" x2="466.70" y2="513.15" stroke="#000" stroke-width="1.4"/>
<text x="459.00" y="516.55" font-size="10" text-anchor="end" textLength="20.2" lengthAdjust="spacingAndGlyphs" >0.08</text>
<line x1="464.10" y1="494.60" x2="466.70" y2="494.60" stroke="#000" stroke-width="1.4"/>
<line x1="462.30" y1="476.05" x2="466.70" y2="476.05" stroke="#000" stroke-width="1.4"/>
<text x="459.00" y="479.45" font-size="10" text-anchor="end" textLength="20.2" lengthAdjust="spacingAndGlyphs" >0.16</text>
<line x1="464.10" y1="457.50" x2="466.70" y2="457.50" stroke="#000" stroke-width="1.4"/>
<line x1="462.30" y1="438.95" x2="466.70" y2="438.95" stroke="#000" stroke-width="1.4"/>
<text x="459.00" y="442.35" font-size="10" text-anchor="end" textLength="20.2" lengthAdjust="spacingAndGlyphs" >0.24</text>
<line x1="464.10" y1="420.40" x2="466.70" y2="420.40" stroke="#000" stroke-width="1.4"/>
<line x1="462.30" y1="401.85" x2="466.70" y2="401.85" stroke="#000" stroke-width="1.4"/>
<text x="459.00" y="405.25" font-size="10" text-anchor="end" textLength="20.2" lengthAdjust="spacingAndGlyphs" >0.32</text>
<line x1="464.10" y1="383.30" x2="466.70" y2="383.30" stroke="#000" stroke-width="1.4"/>
<line x1="462.30" y1="364.75" x2="466.70" y2="364.75" stroke="#000" stroke-width="1.4"/>
<text x="459.00" y="368.15" font-size="10" text-anchor="end" textLength="20.2" lengthAdjust="spacingAndGlyphs" >0.40</text>
<line x1="464.10" y1="346.20" x2="466.70" y2="346.20" stroke="#000" stroke-width="1.4"/>
<line x1="462.30" y1="327.65" x2="466.70" y2="327.65" stroke="#000" stroke-width="1.4"/>
<text x="459.00" y="331.05" font-size="10" text-anchor="end" textLength="20.2" lengthAdjust="spacingAndGlyphs" >0.48</text>
<rect x="474.50" y="519.70" width="62.50" height="12.30" fill="#000"/>
<line x1="505.75" y1="518.40" x2="505.75" y2="520.70" stroke="#000" stroke-width="1.5"/>
<line x1="502.95" y1="518.40" x2="508.55" y2="518.40" stroke="#000" stroke-width="1.8"/>
<rect x="552.00" y="518.20" width="62.20" height="13.80" fill="#000"/>
<line x1="583.10" y1="516.80" x2="583.10" y2="519.20" stroke="#000" stroke-width="1.5"/>
<line x1="580.30" y1="516.80" x2="585.90" y2="516.80" stroke="#000" stroke-width="1.8"/>
<rect x="629.40" y="514.40" width="61.70" height="17.60" fill="#000"/>
<line x1="660.25" y1="512.60" x2="660.25" y2="515.40" stroke="#000" stroke-width="1.5"/>
<line x1="657.45" y1="512.60" x2="663.05" y2="512.60" stroke="#000" stroke-width="1.8"/>
<rect x="707.00" y="363.60" width="61.80" height="168.40" fill="#000"/>
<line x1="737.90" y1="353.90" x2="737.90" y2="364.60" stroke="#000" stroke-width="1.5"/>
<line x1="735.10" y1="353.90" x2="740.70" y2="353.90" stroke="#000" stroke-width="1.8"/>
<line x1="467.00" y1="532.00" x2="467.00" y2="534.60" stroke="#000" stroke-width="1.4"/>
<line x1="505.70" y1="532.00" x2="505.70" y2="536.40" stroke="#000" stroke-width="1.4"/>
<line x1="544.40" y1="532.00" x2="544.40" y2="534.60" stroke="#000" stroke-width="1.4"/>
<line x1="583.10" y1="532.00" x2="583.10" y2="536.40" stroke="#000" stroke-width="1.4"/>
<line x1="621.80" y1="532.00" x2="621.80" y2="534.60" stroke="#000" stroke-width="1.4"/>
<line x1="660.50" y1="532.00" x2="660.50" y2="536.40" stroke="#000" stroke-width="1.4"/>
<line x1="699.20" y1="532.00" x2="699.20" y2="534.60" stroke="#000" stroke-width="1.4"/>
<line x1="737.90" y1="532.00" x2="737.90" y2="536.40" stroke="#000" stroke-width="1.4"/>
<line x1="776.60" y1="532.00" x2="776.60" y2="534.60" stroke="#000" stroke-width="1.4"/>
<text x="505.60" y="547.90" font-size="10.8" text-anchor="middle" textLength="22.0" lengthAdjust="spacing" class="lt">BSA</text>
<text x="583.00" y="547.90" font-size="10.8" text-anchor="middle" textLength="50.2" lengthAdjust="spacing" class="lt">Thrombin</text>
<text x="661.80" y="547.90" font-size="10.8" text-anchor="middle" textLength="52.5" lengthAdjust="spacing" class="lt">Lysozyme</text>
<text x="737.80" y="547.90" font-size="10.8" text-anchor="middle" textLength="72.8" lengthAdjust="spacing" class="lt">Chymotrypsin</text>
<text x="428.4" y="437.8" font-size="12.5" textLength="31.3" lengthAdjust="spacingAndGlyphs" transform="rotate(-90 428.4 437.8)">F/F<tspan font-size="7.5" dy="3">0</tspan><tspan dy="-3">-1</tspan></text>
</svg>
</body></html>
